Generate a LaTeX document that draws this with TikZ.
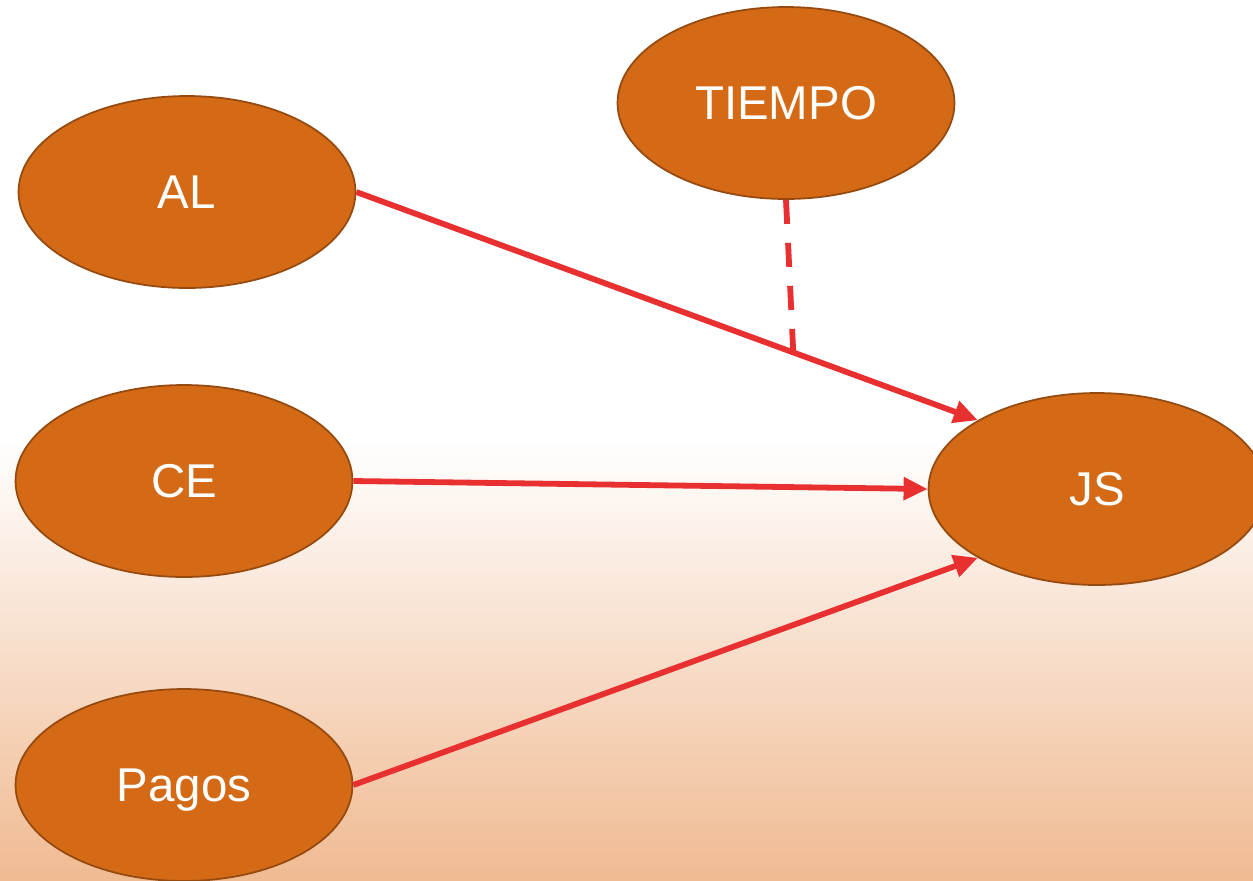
\documentclass[tikz,border=0pt]{standalone}
\usepackage{fontspec}
\setmainfont{Liberation Sans}
\usetikzlibrary{shapes.geometric,arrows.meta}
\definecolor{nodo}{RGB}{212,106,22}
\definecolor{borde}{RGB}{150,74,16}
\definecolor{rojo}{RGB}{232,48,48}
\definecolor{fondo}{RGB}{240,186,146}
\tikzset{
  var/.style={ellipse,fill=nodo,draw=borde,line width=1pt,minimum width=6.74cm,
    minimum height=3.84cm,inner sep=0pt,text=white,font=\fontsize{27}{32}\selectfont,
    text height=19.3pt,text depth=0pt},
  flecha/.style={rojo,line width=3.3pt,-{Triangle[length=13.7pt,width=12.5pt]}}
}
\begin{document}
\begin{tikzpicture}[x=0.02cm,y=-0.02cm]
\useasboundingbox (0,0) rectangle (1253,880);
\clip (0,0) rectangle (1253,880);
\fill[white] (0,0) rectangle (1253,440);
\shade[top color=white,bottom color=fondo] (0,440) rectangle (1253,880);
\node[var] (al) at (187,192) {AL};
\node[var] (tiempo) at (786,103) {TIEMPO};
\node[var] (ce) at (184,481) {CE};
\node[var] (pagos) at (184,785) {Pagos};
\node[var] (js) at (1097,489) {JS};
\draw[flecha](al.east)--(js.150) coordinate[pos=0.703](cruce);
\draw[flecha](ce.east)--(js.west);
\draw[flecha](pagos.east)--(js.210);
\draw[rojo,line width=3.3pt,dash pattern=on 13.7pt off 10.8pt](tiempo.south)--(cruce);
\end{tikzpicture}
\end{document}
